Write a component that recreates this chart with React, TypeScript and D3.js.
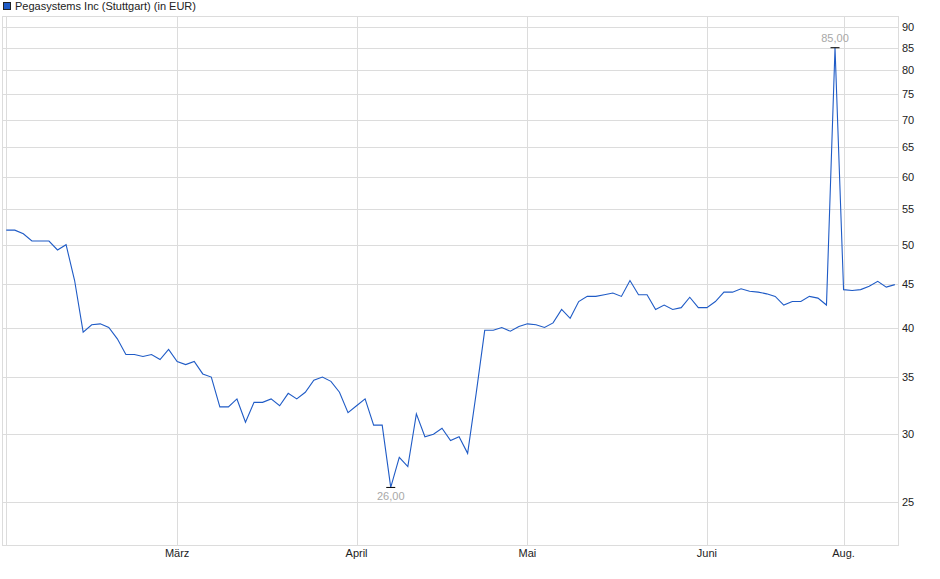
import React from "react";
import * as d3 from "d3";

const title = "Pegasystems Inc (Stuttgart) (in EUR)";

const prices: number[] = [
  52.0, 52.0, 51.5, 50.5, 50.5, 50.5, 49.3, 50.0, 45.4, 39.5,
  40.3, 40.4, 40.0, 38.8, 37.2, 37.2, 37.0, 37.2, 36.7, 37.7,
  36.5, 36.2, 36.5, 35.3, 35.0, 32.3, 32.3, 33.0, 31.0, 32.7,
  32.7, 33.0, 32.4, 33.5, 33.0, 33.6, 34.7, 35.0, 34.6, 33.6,
  31.8, 32.4, 33.0, 30.75, 30.75, 26.0, 28.2, 27.5, 31.7, 29.8,
  30.0, 30.5, 29.5, 29.8, 28.5, 33.5, 39.7, 39.7, 40.0, 39.6,
  40.1, 40.4, 40.3, 40.0, 40.5, 42.0, 41.0, 42.9, 43.5, 43.5,
  43.7, 43.9, 43.5, 45.4, 43.7, 43.7, 42.0, 42.5, 42.0, 42.2,
  43.4, 42.2, 42.2, 42.9, 44.0, 44.0, 44.4, 44.1, 44.0, 43.8,
  43.5, 42.5, 42.9, 42.9, 43.5, 43.3, 42.5, 85.0, 44.3, 44.2,
  44.3, 44.7, 45.3, 44.6, 44.9,
];

const monthIdx: number[] = [0, 20, 41, 61, 82, 98];
const monthLabels: string[] = ["", "März", "April", "Mai", "Juni", "Aug."];
const yTicks: number[] = [25, 30, 35, 40, 45, 50, 55, 60, 65, 70, 75, 80, 85, 90];

const W = 940;
const H = 579;
const L = 2.5;
const R = 898.5;
const T = 16.5;
const B = 545.5;

export default function App() {
  const x = d3.scaleLinear().domain([-0.44, 104.43]).range([L, R]);
  const y = d3.scaleLog().domain([25, 90]).range([502, 26.5]);

  const line = d3
    .line<number>()
    .x((_, i) => x(i))
    .y((d) => y(d));

  const maxI = d3.maxIndex(prices);
  const minI = d3.minIndex(prices);
  const fmt = (v: number) => v.toFixed(2).replace(".", ",");
  const font = "'Liberation Sans', Arial, sans-serif";
  const grid = "#dcdcdc";

  return (
    <svg
      width={W}
      height={H}
      style={{ position: "absolute", left: 0, top: 0, background: "#fff" }}
      fontFamily={font}
    >
      <rect x={0} y={0} width={W} height={H} fill="#fff" />
      {/* legend / title */}
      <rect x={3.5} y={2.5} width={7} height={7} fill="#1f5bc6" stroke="#222" strokeWidth={1} />
      <text x={15} y={10} fontSize={11} fill="#222">
        {title}
      </text>

      {/* horizontal grid */}
      {yTicks.map((t) => (
        <line
          key={"h" + t}
          x1={L}
          x2={R}
          y1={Math.round(y(t)) + 0.5}
          y2={Math.round(y(t)) + 0.5}
          stroke={grid}
          strokeWidth={1}
        />
      ))}
      {/* vertical grid */}
      {monthIdx.map((m) => (
        <line
          key={"v" + m}
          x1={Math.round(x(m)) + 0.5}
          x2={Math.round(x(m)) + 0.5}
          y1={T}
          y2={B}
          stroke={grid}
          strokeWidth={1}
        />
      ))}
      {/* frame */}
      <rect x={L} y={T} width={R - L} height={B - T} fill="none" stroke={grid} strokeWidth={1} />

      {/* y labels */}
      {yTicks.map((t) => (
        <text key={"yl" + t} x={902} y={y(t) + 4} fontSize={11} fill="#222">
          {t}
        </text>
      ))}
      {/* x labels */}
      {monthIdx.map((m, i) =>
        monthLabels[i] ? (
          <text
            key={"xl" + m}
            x={x(m)}
            y={557}
            fontSize={11}
            fill="#222"
            textAnchor="middle"
          >
            {monthLabels[i]}
          </text>
        ) : null
      )}

      {/* price line */}
      <path d={line(prices) || ""} fill="none" stroke="#1f5bc6" strokeWidth={1.1} />

      {/* max marker */}
      <line
        x1={x(maxI) - 4.5}
        x2={x(maxI) + 4.5}
        y1={y(prices[maxI])}
        y2={y(prices[maxI])}
        stroke="#000"
        strokeWidth={1}
      />
      <text x={x(maxI)} y={y(prices[maxI]) - 6} fontSize={11} fill="#a8a8a8" textAnchor="middle">
        {fmt(prices[maxI])}
      </text>
      {/* min marker */}
      <line
        x1={x(minI) - 4.5}
        x2={x(minI) + 4.5}
        y1={y(prices[minI])}
        y2={y(prices[minI])}
        stroke="#000"
        strokeWidth={1}
      />
      <text x={x(minI)} y={y(prices[minI]) + 13} fontSize={11} fill="#a8a8a8" textAnchor="middle">
        {fmt(prices[minI])}
      </text>
    </svg>
  );
}
